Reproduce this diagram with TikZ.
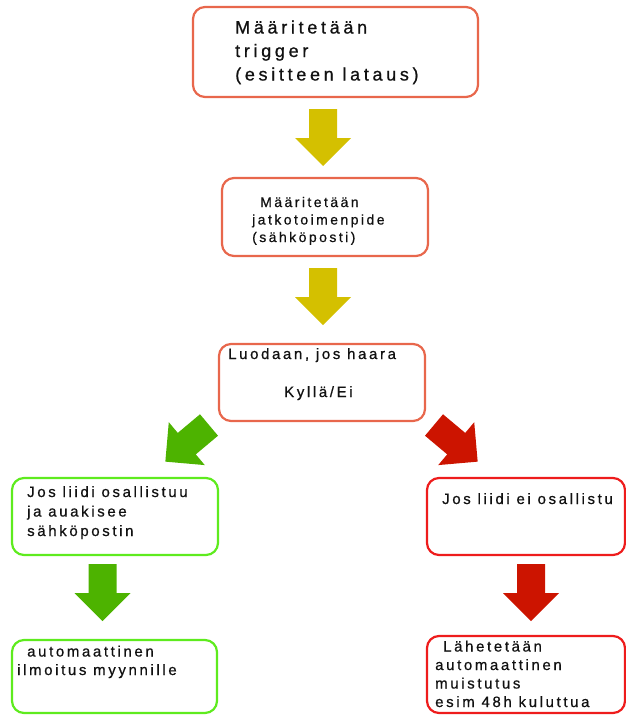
\documentclass[tikz,border=0pt]{standalone}
\usepackage{fontspec}
\newfontfamily\lblfont{Liberation Sans}[LetterSpace=17.5,FakeBold=0.6]
\newfontfamily\biglblfont{Liberation Sans}[LetterSpace=20.5,FakeBold=0.8]
\definecolor{boxorange}{HTML}{E8674C}
\definecolor{boxgreen}{HTML}{5EEB1E}
\definecolor{boxred}{HTML}{EE1C1C}
\definecolor{arrowyellow}{HTML}{D4C000}
\definecolor{arrowgreen}{HTML}{4DB300}
\definecolor{arrowred}{HTML}{CC1400}
\definecolor{txtcol}{HTML}{111111}
\tikzset{
  flowbox/.style={draw, line width=2.2pt, rounded corners=12pt, fill=white, inner sep=0pt},
  orangebox/.style={flowbox, draw=boxorange},
  greenbox/.style={flowbox, draw=boxgreen},
  redbox/.style={flowbox, draw=boxred},
  txt/.style={inner sep=0pt, align=left, text=txtcol, anchor=base west},
  bigtxt/.style={txt, font=\biglblfont\fontsize{18}{23.5}\selectfont},
  midtxt/.style={txt, font=\lblfont\fontsize{14}{17.5}\selectfont},
  stdtxt/.style={txt, font=\lblfont\fontsize{15}{18.5}\selectfont},
  widetxt/.style={txt, font=\lblfont\fontsize{15}{19.5}\selectfont},
  blockarrow/.pic={\path[pic actions] (-14,0) -- (14,0) -- (14,29) -- (28,29) -- (0,57) -- (-28,29) -- (-14,29) -- cycle;}
}
\begin{document}
\begin{tikzpicture}[x=1pt,y=-1pt]
\useasboundingbox (0,0) rectangle (626,715);
% boxes
\node[orangebox, minimum width=285pt, minimum height=90pt] (b1) at (335.5,52) {};
\node[orangebox, minimum width=206pt, minimum height=78pt] (b2) at (325,217) {};
\node[orangebox, minimum width=206pt, minimum height=77pt] (b3) at (322,382.5) {};
\node[greenbox, minimum width=206pt, minimum height=77pt] (b4) at (115,516.5) {};
\node[redbox, minimum width=198pt, minimum height=77pt] (b5) at (526,516.5) {};
\node[greenbox, minimum width=205pt, minimum height=73pt] (b6) at (114.5,676.5) {};
\node[redbox, minimum width=198pt, minimum height=77pt] (b7) at (526,674.5) {};
% texts (anchor at the baseline of the last line)
\node[bigtxt] (t1) at (235,80.5) {Määritetään\\trigger\\(esitteen lataus)};
\node[midtxt] (t2) at (252,242) {\hspace*{8pt}Määritetään\\jatkotoimenpide\\(sähköposti)};
\node[stdtxt] (t3a) at (228,359) {Luodaan, jos haara};
\node[stdtxt] (t3b) at (284,397) {Kyllä/Ei};
\node[widetxt] (t4) at (27,536) {Jos liidi osallistuu\\ja auakisee\\sähköpostin};
\node[stdtxt] (t5) at (442,504) {Jos liidi ei osallistu};
\node[stdtxt] (t6) at (17,675) {\hspace*{10pt}automaattinen\\ilmoitus myynnille};
\node[stdtxt] (t7) at (435,707) {\hspace*{8pt}Lähetetään\\automaattinen\\muistutus\\esim 48h kuluttua};
% block arrows
\pic[fill=arrowyellow] at (323,109) {blockarrow};
\pic[fill=arrowyellow] at (323,268) {blockarrow};
\pic[fill=arrowgreen, rotate=-50] at (209,425) {blockarrow};
\pic[fill=arrowred, rotate=50] at (434,425) {blockarrow};
\pic[fill=arrowgreen] at (102.5,564) {blockarrow};
\pic[fill=arrowred] at (531,564) {blockarrow};
\end{tikzpicture}
\end{document}
